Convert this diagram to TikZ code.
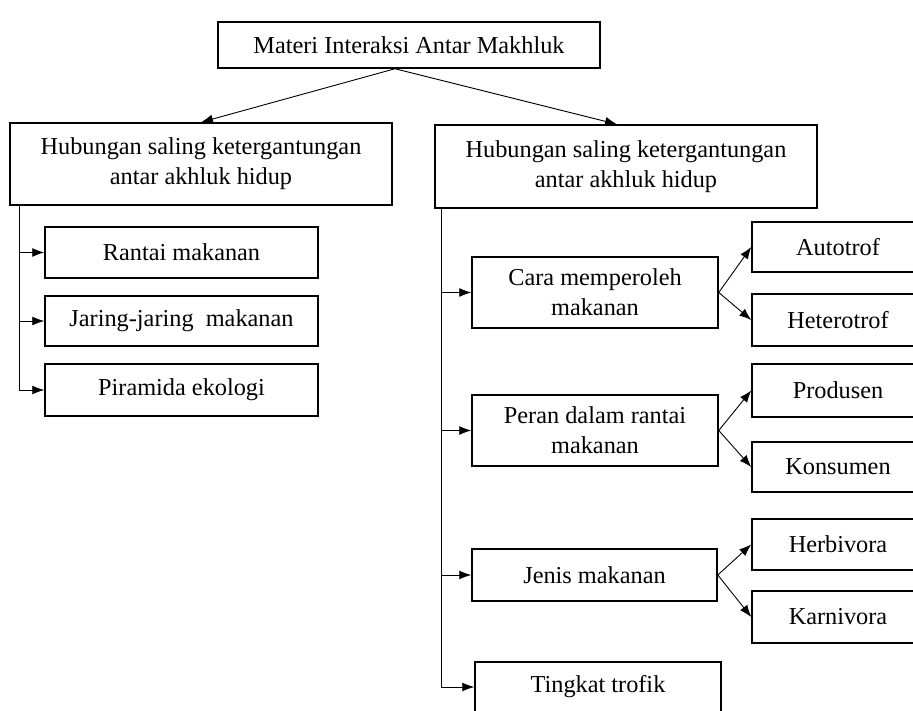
\documentclass[tikz,border=0pt]{standalone}
\usepackage{fontspec}
\setmainfont{Liberation Serif}
\usetikzlibrary{arrows.meta}
\begin{document}
\begin{tikzpicture}[x=1pt,y=-1pt,
  box/.style={draw,line width=1.5pt,align=center,inner sep=0pt,font=\fontsize{24.3}{30}\selectfont},
  conn/.style={line width=0.9pt,-{Latex[length=12pt,width=9pt]}},
  trunk/.style={line width=0.9pt}]
\clip (0,0) rectangle (913,711);
\fill[white] (0,0) rectangle (913,711);
% top
\node[box,minimum width=382pt,minimum height=46pt] (top) at (409,45) {Materi Interaksi Antar Makhluk};
\node[box,minimum width=382pt,minimum height=82pt] (L1) at (201,164) {Hubungan saling ketergantungan\\antar akhluk hidup};
\node[box,minimum width=382pt,minimum height=83pt] (R1) at (626,166.5) {Hubungan saling ketergantungan\\antar akhluk hidup};
% left children
\node[box,minimum width=273pt,minimum height=51pt] (rantai) at (181.5,252.5) {Rantai makanan};
\node[box,minimum width=273pt,minimum height=50pt] (jaring) at (181.5,321) {Jaring-jaring\ \ makanan};
\node[box,minimum width=273pt,minimum height=52pt] (piramida) at (181.5,390) {Piramida ekologi};
% right children
\node[box,minimum width=246pt,minimum height=71pt] (cara) at (595,292.5) {Cara memperoleh\\makanan};
\node[box,minimum width=246pt,minimum height=71pt] (peran) at (595,430.5) {Peran dalam rantai\\makanan};
\node[box,minimum width=245pt,minimum height=52pt] (jenis) at (594.5,575) {Jenis makanan};
\node[box,minimum width=246pt,minimum height=50pt] (tingkat) at (598,687) {Tingkat trofik};
% leaves
\node[box,minimum width=172pt,minimum height=50pt] (auto) at (838,247) {Autotrof};
\node[box,minimum width=172pt,minimum height=52pt] (hetero) at (838,320) {Heterotrof};
\node[box,minimum width=172pt,minimum height=53pt] (prod) at (838,390.5) {Produsen};
\node[box,minimum width=172pt,minimum height=50pt] (kons) at (838,467) {Konsumen};
\node[box,minimum width=172pt,minimum height=51pt] (herb) at (838,544.5) {Herbivora};
\node[box,minimum width=172pt,minimum height=52pt] (karn) at (838,617) {Karnivora};
% top arrows
\draw[conn] ([xshift=-14pt]top.south) -- (L1.north);
\draw[conn] ([xshift=-14pt]top.south) -- ([xshift=-9pt]R1.north);
% left trunk
\coordinate (lt) at ([xshift=10pt]L1.south west);
\draw[trunk] (lt) -- (lt |- piramida.west);
\draw[conn] (lt |- rantai.west) -- (rantai.west);
\draw[conn] (lt |- jaring.west) -- (jaring.west);
\draw[conn] (lt |- piramida.west) -- (piramida.west);
% right trunk
\coordinate (rt) at ([xshift=7pt]R1.south west);
\draw[trunk] (rt) -- (rt |- tingkat.west);
\draw[conn] (rt |- cara.west) -- (cara.west);
\draw[conn] (rt |- peran.west) -- (peran.west);
\draw[conn] (rt |- jenis.west) -- (jenis.west);
\draw[conn] (rt |- tingkat.west) -- (tingkat.west);
% fans
\draw[conn] (cara.east) -- (auto.west);
\draw[conn] (cara.east) -- (hetero.west);
\draw[conn] (peran.east) -- (prod.west);
\draw[conn] (peran.east) -- (kons.west);
\draw[conn] (jenis.east) -- (herb.west);
\draw[conn] (jenis.east) -- (karn.west);
\end{tikzpicture}
\end{document}
